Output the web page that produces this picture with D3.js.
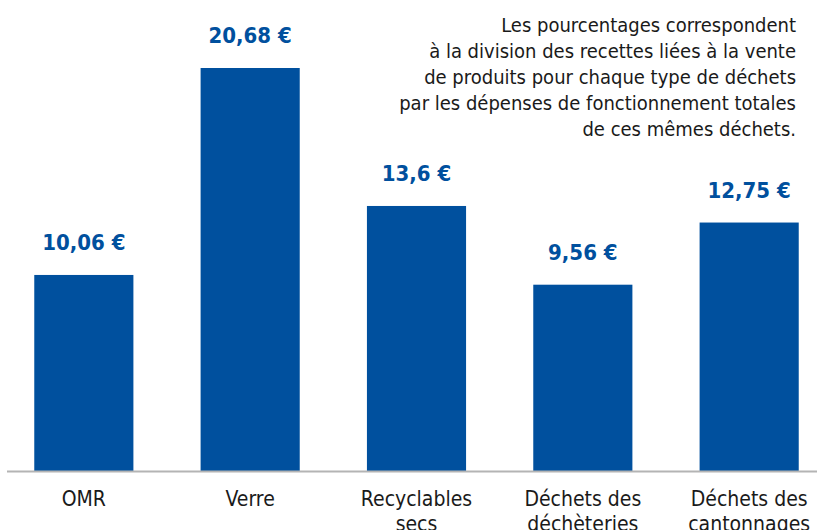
<!DOCTYPE html>
<html>
<head>
<meta charset="utf-8">
<script src="https://cdn.jsdelivr.net/npm/d3@7"></script>
<style>
  body { margin: 0; background: #fff; }
  svg { display: block; }
</style>
</head>
<body>
<div id="chart"></div>
<script>
// Data
const categories = [["OMR"], ["Verre"], ["Recyclables", "secs"], ["Déchets des", "déchèteries"], ["Déchets des", "cantonnages"]];
const values = [10.06, 20.68, 13.6, 9.56, 12.75];
const valueLabels = ["10,06 €", "20,68 €", "13,6 €", "9,56 €", "12,75 €"];
const noteLines = [
  "Les pourcentages correspondent",
  "à la division des recettes liées à la vente",
  "de produits pour chaque type de déchets",
  "par les dépenses de fonctionnement totales",
  "de ces mêmes déchets."
];

function draw(container) {
  const width = 817;
  const height = 530;
  const margin = ({top: 68, right: 2, bottom: 59, left: 0});
  const font = "'DejaVu Sans Condensed', 'DejaVu Sans', sans-serif";
  const blue = "#00509e";

  const svg = d3.select(container).append("svg")
    .attr("width", width)
    .attr("height", height);

  // x scale: bands over the plot width
  const x = d3.scaleBand()
    .domain(d3.range(values.length))
    .range([1, 832])
    .paddingInner(0.404)
    .paddingOuter(0.2);

  // y scale: tallest bar reaches the top margin
  const y = d3.scaleLinear()
    .domain([0, d3.max(values)])
    .range([height - margin.bottom, margin.top]);

  // bars
  svg.append("g")
    .attr("fill", blue)
    .selectAll("rect")
    .data(values)
    .join("rect")
      .attr("x", (d, i) => x(i))
      .attr("y", d => y(d))
      .attr("width", x.bandwidth())
      .attr("height", d => y(0) - y(d));

  // value labels above bars
  svg.append("g")
    .selectAll("text")
    .data(values)
    .join("text")
      .attr("x", (d, i) => x(i) + x.bandwidth() / 2)
      .attr("y", d => y(d) - 25)
      .attr("text-anchor", "middle")
      .attr("fill", blue)
      .attr("font-family", font)
      .attr("font-weight", "bold")
      .attr("font-size", 22)
      .text((d, i) => valueLabels[i]);

  // baseline
  svg.append("line")
    .attr("x1", 7).attr("x2", width)
    .attr("y1", y(0) + 0.5).attr("y2", y(0) + 0.5)
    .attr("stroke", "#b4b4b4")
    .attr("stroke-width", 2);

  // category labels
  const cat = svg.append("g")
    .selectAll("text")
    .data(categories)
    .join("text")
      .attr("x", (d, i) => x(i) + x.bandwidth() / 2)
      .attr("y", 506)
      .attr("text-anchor", "middle")
      .attr("fill", "#1a1a1a")
      .attr("font-family", font)
      .attr("font-size", 21);
  cat.selectAll("tspan")
    .data(d => d)
    .join("tspan")
      .attr("x", function() { return this.parentNode.getAttribute("x"); })
      .attr("dy", (d, i) => i === 0 ? 0 : 25)
      .text(d => d);

  // explanatory note, right aligned
  svg.append("g")
    .selectAll("text")
    .data(noteLines)
    .join("text")
      .attr("x", 796)
      .attr("y", (d, i) => 32 + i * 26)
      .attr("text-anchor", "end")
      .attr("fill", "#1a1a1a")
      .attr("font-family", font)
      .attr("font-size", 20)
      .text(d => d);

  return svg.node();
}

draw("#chart");
</script>
</body>
</html>
